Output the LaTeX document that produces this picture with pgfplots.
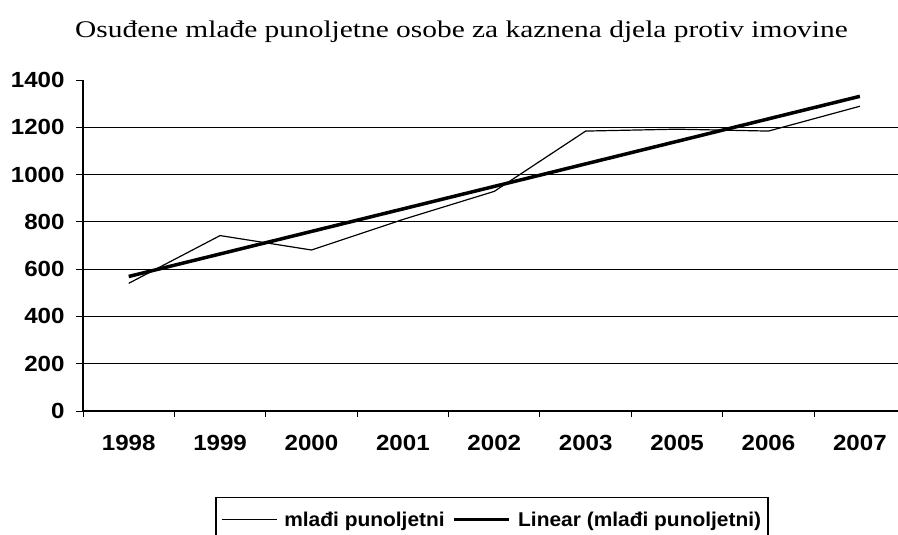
\documentclass[border=0pt]{standalone}
\usepackage{fontspec}
\setmainfont{Liberation Sans}
\newfontfamily\seriffont[FakeStretch=1.23]{Liberation Serif}
\newfontfamily\labfont[FakeStretch=1.1]{Liberation Sans}
\newfontfamily\legfont[FakeStretch=1.05]{Liberation Sans}
\usepackage{pgfplots}
\pgfplotsset{compat=1.18}
\begin{document}
\begin{tikzpicture}
\path[use as bounding box] (0bp,0bp) rectangle (898bp,-535bp);
\clip (0bp,0bp) rectangle (898bp,-535bp);
\node[anchor=base west, font=\seriffont\fontsize{24}{28}\selectfont, inner sep=0pt] at (75bp,-37bp) {Osuđene mlađe punoljetne osobe za kaznena djela protiv imovine};
\begin{axis}[
  at={(83bp,-411bp)}, anchor=south west, scale only axis,
  width=815bp, height=331bp,
  xmin=-0.5, xmax=8.417, ymin=0, ymax=1400,
  axis lines=left, axis line style={-, line width=1.3bp, black},
  clip=false,
  xtick={0,...,8},
  xticklabels={1998,1999,2000,2001,2002,2003,2005,2006,2007},
  major x tick style={draw=none},
  minor xtick={-0.5,0.5,...,7.5},
  ytick={0,200,...,1400},
  yticklabels={0,200,400,600,800,1000,1200,1400},
  extra y ticks={200,400,...,1200},
  extra y tick labels={},
  extra y tick style={grid=major, major tick length=0pt},
  major grid style={black, line width=1bp},
  tick align=outside,
  major tick length=7bp, minor tick length=6bp,
  tick style={black, line width=1bp},
  ticklabel style={font=\labfont\bfseries\fontsize{22}{24}\selectfont, text=black},
  xticklabel style={yshift=-14bp},
  yticklabel style={xshift=-8bp},
  legend style={at={(0.502,-0.26)}, anchor=north, draw=black, line width=1.3bp,
    font=\legfont\bfseries\fontsize{20}{24}\selectfont, legend columns=2,
    /tikz/every odd column/.append style={column sep=5bp},
    /tikz/every even column/.append style={column sep=6bp},
    inner xsep=5bp, inner ysep=12bp, legend cell align=left},
  legend image code/.code={\draw[#1] (0bp,0bp) -- (55bp,0bp);},
]
\addplot[black, line width=1.2bp] coordinates {(0,540)(1,742)(2,681)(3,810)(4,929)(5,1184)(6,1192)(7,1184)(8,1289)};
\addlegendentry{mlađi punoljetni}
\addplot[black, line width=3.5bp] coordinates {(0,569)(8,1331)};
\addlegendentry{Linear (mlađi punoljetni)}
\end{axis}
\end{tikzpicture}
\end{document}
